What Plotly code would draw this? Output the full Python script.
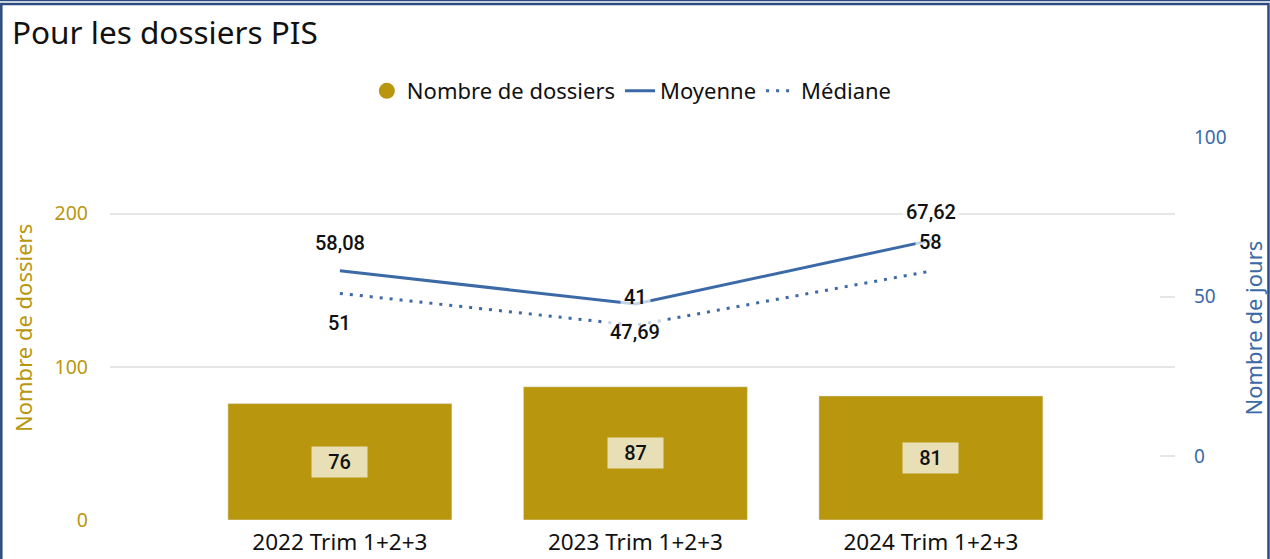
import plotly.graph_objects as go

categories = ["2022 Trim 1+2+3", "2023 Trim 1+2+3", "2024 Trim 1+2+3"]
nb_dossiers = [76, 87, 81]
moyenne = [58.08, 47.69, 67.62]
mediane = [51, 41, 58]
left_ticks = [0, 100, 200]
right_ticks = [0, 50, 100]

W, H = 1270, 559
L, R, T, B = 110, 95, 137, 39
PW, PH = W - L - R, H - T - B

GOLD = "#B8970E"
BLUE = "#3B6AA7"
GRID = "#E6E6E6"
UI_FONT = "Noto Sans"
NUM_FONT = "Roboto"


def fmt(v):
    if float(v).is_integer():
        return str(int(v))
    return f"{v:.2f}".replace(".", ",")


def px_x(p):
    return (p - L) / PW


def px_y(p):
    return (H - B - p) / PH


fig = go.Figure()

fig.add_trace(go.Bar(
    x=categories, y=nb_dossiers, name="Nombre de dossiers",
    marker_color=GOLD, width=0.758, showlegend=False, yaxis="y",
    hoverinfo="skip",
))
# legend entry with circle symbol
fig.add_trace(go.Scatter(
    x=[None], y=[None], mode="markers", name="Nombre de dossiers",
    marker=dict(color=GOLD, size=19, symbol="circle"),
))
fig.add_trace(go.Scatter(
    x=categories, y=moyenne, name="Moyenne", mode="lines", yaxis="y2",
    line=dict(color=BLUE, width=3),
))
fig.add_trace(go.Scatter(
    x=categories, y=mediane, name="Médiane", mode="lines", yaxis="y2",
    line=dict(color=BLUE, width=3, dash="3px,7px"),
))

annotations = []
# bar value labels
for c, v in zip(categories, nb_dossiers):
    annotations.append(dict(
        x=c, y=v / 2, xref="x", yref="y", text=str(v), showarrow=False,
        font=dict(family=NUM_FONT, size=20, color="#111111", weight=500),
        bgcolor="#E8DFB6", width=47, height=22, borderpad=4,
    ))

moy_shift = [28, -28, 28]
med_shift = [-30, 28, 29]
for c, v, s in zip(categories, moyenne, moy_shift):
    annotations.append(dict(
        x=c, y=v, xref="x", yref="y2", text=fmt(v), showarrow=False, yshift=s,
        font=dict(family=NUM_FONT, size=20, color="#111111", weight=500),
        bgcolor="rgba(255,255,255,0.7)", borderpad=3,
    ))
for c, v, s in zip(categories, mediane, med_shift):
    annotations.append(dict(
        x=c, y=v, xref="x", yref="y2", text=fmt(v), showarrow=False, yshift=s,
        font=dict(family=NUM_FONT, size=20, color="#111111", weight=500),
        bgcolor="rgba(255,255,255,0.7)", borderpad=3,
    ))

# axis titles
annotations.append(dict(
    x=0, y=0.5, xref="paper", yref="paper", xshift=-(L - 22.5), textangle=-90,
    xanchor="center", yanchor="middle",
    text="Nombre de dossiers", showarrow=False,
    font=dict(family=UI_FONT, size=22, color=GOLD),
))
annotations.append(dict(
    x=1, y=0.5, xref="paper", yref="paper", xshift=1252 - (W - R), textangle=-90,
    xanchor="center", yanchor="middle",
    text="Nombre de jours", showarrow=False,
    font=dict(family=UI_FONT, size=22, color=BLUE),
))

shapes = [
    dict(type="line", xref="paper", yref="paper", x0=px_x(0), x1=px_x(W),
         y0=px_y(0.6), y1=px_y(0.6), line=dict(color="#2B4C7E", width=1.5)),
    dict(type="rect", xref="paper", yref="paper", x0=px_x(1.3), x1=px_x(1268.5),
         y0=px_y(4), y1=px_y(H + 10), line=dict(color="#2B4C7E", width=2.5)),
]

fig.update_layout(
    width=W, height=H,
    margin=dict(l=L, r=R, t=T, b=B, autoexpand=False),
    paper_bgcolor="white", plot_bgcolor="white",
    title=dict(text="Pour les dossiers PIS", x=12 / W, xanchor="left",
               y=1 - 33 / H, yanchor="middle",
               font=dict(family=UI_FONT, size=31.5, color="#111111")),
    legend=dict(orientation="h", x=0.49, xanchor="center", y=1 + 46 / PH,
                yanchor="middle", font=dict(family=UI_FONT, size=22, color="#111111"),
                itemwidth=30, tracegroupgap=0),
    xaxis=dict(type="category", range=[-0.778, 2.826], showgrid=False,
               showline=False, zeroline=False, ticks="", ticklabelstandoff=6,
               automargin=False,
               tickfont=dict(family=UI_FONT, size=22.5, color="#111111")),
    yaxis=dict(range=[0, 250], tickvals=left_ticks, showgrid=True,
               gridcolor=GRID, gridwidth=1.5, zeroline=False, showline=False,
               ticks="", ticklabelstandoff=21, automargin=False,
               tickfont=dict(family=UI_FONT, size=19.5, color=GOLD)),
    yaxis2=dict(range=[-20, 100], tickvals=right_ticks, overlaying="y",
                side="right", showgrid=False, zeroline=False, showline=False,
                ticks="inside", ticklen=15, tickcolor=GRID, tickwidth=1.5,
                ticklabelstandoff=18, automargin=False,
                tickfont=dict(family=UI_FONT, size=19, color=BLUE)),
    annotations=annotations,
    shapes=shapes,
    bargap=0.24,
    showlegend=True,
)

fig.write_html("out.html", config={"displayModeBar": False},
               post_script="document.body.style.margin='0';")
